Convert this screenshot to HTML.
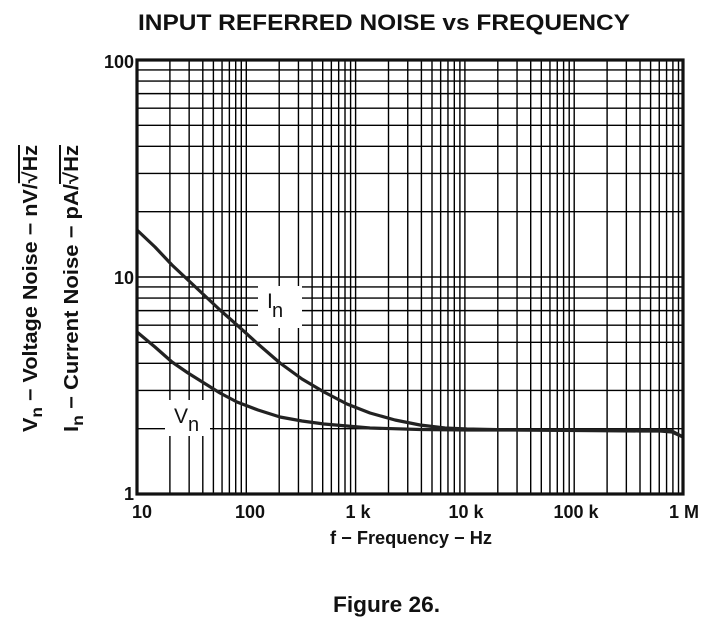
<!DOCTYPE html>
<html><head><meta charset="utf-8"><style>
html,body{margin:0;padding:0;background:#fff;}
svg{display:block;font-family:"Liberation Sans",Arial,sans-serif;font-weight:bold;}
</style></head><body>
<svg id="s" width="710" height="621" viewBox="0 0 710 621" xmlns="http://www.w3.org/2000/svg">
<text x="138" y="30" font-size="22" textLength="492" lengthAdjust="spacingAndGlyphs" fill="#111">INPUT REFERRED NOISE vs FREQUENCY</text>
<g id="grid" stroke="#000" stroke-width="1.4"></g>
<rect x="258" y="286" width="44" height="42" fill="#fff"/>
<rect x="165" y="400" width="45" height="36" fill="#fff"/>
<polyline points="137,230 155,247 172,265 188,280 204,295 220,310 237,325 258,344 280,363 302,379 324,392 347,404 370,413 395,420 420,425 445,428 467,429 520,430 640,431 660,431 672,432 683,437" fill="none" stroke="#222" stroke-width="3.2" stroke-linejoin="round"/>
<polyline points="137,332 155,347 172,362 188,373 204,383 220,393 237,402 258,410 280,417 302,421 324,424 347,426 370,428 420,429.5 467,430 640,430 660,430 672,431 683,437" fill="none" stroke="#222" stroke-width="3.2" stroke-linejoin="round"/>
<rect x="137" y="60" width="546" height="434" fill="none" stroke="#111" stroke-width="3.2"/>
<text x="267" y="308" font-size="21" font-weight="normal" fill="#111">I</text>
<text x="272" y="317" font-size="20" font-weight="normal" fill="#111">n</text>
<text x="174" y="423" font-size="21" font-weight="normal" fill="#111">V</text>
<text x="188" y="431" font-size="20" font-weight="normal" fill="#111">n</text>
<g font-size="18" fill="#111" text-anchor="end">
<text x="134" y="68">100</text><text x="134" y="284">10</text><text x="134" y="500">1</text>
</g>
<g font-size="18" fill="#111" text-anchor="middle">
<text x="142" y="518">10</text><text x="250" y="518">100</text><text x="358" y="518">1 k</text>
<text x="466" y="518">10 k</text><text x="576" y="518">100 k</text><text x="684" y="518">1 M</text>
</g>
<text x="330" y="544" font-size="18" textLength="162" lengthAdjust="spacingAndGlyphs" fill="#111">f − Frequency − Hz</text>
<text x="333" y="612" font-size="22" textLength="107" lengthAdjust="spacingAndGlyphs" fill="#111">Figure 26.</text>
<g font-size="20" fill="#111">
<text transform="translate(37,432) rotate(-90)" textLength="287" lengthAdjust="spacingAndGlyphs">V<tspan font-size="16" dy="5">n</tspan><tspan dy="-5"> − Voltage Noise − nV/</tspan><tspan text-decoration="overline">√Hz</tspan></text>
<text transform="translate(78,432) rotate(-90)" textLength="287" lengthAdjust="spacingAndGlyphs">I<tspan font-size="16" dy="5">n</tspan><tspan dy="-5"> − Current Noise − pA/</tspan><tspan text-decoration="overline">√Hz</tspan></text>
</g>
</svg>
<script>
var g=document.getElementById('grid'),ns='http://www.w3.org/2000/svg';
function L(x1,y1,x2,y2){var l=document.createElementNS(ns,'line');l.setAttribute('x1',x1);l.setAttribute('y1',y1);l.setAttribute('x2',x2);l.setAttribute('y2',y2);g.appendChild(l);}
for(var d=0;d<5;d++)for(var k=1;k<10;k++){var x=137+109.3*(d+Math.log10(k));if(x>137.5)L(x,60,x,494);}
for(var d=0;d<2;d++)for(var k=1;k<10;k++){var y=494-217*(d+Math.log10(k));if(y<493.5)L(137,y,683,y);}
</script>
</body></html>
